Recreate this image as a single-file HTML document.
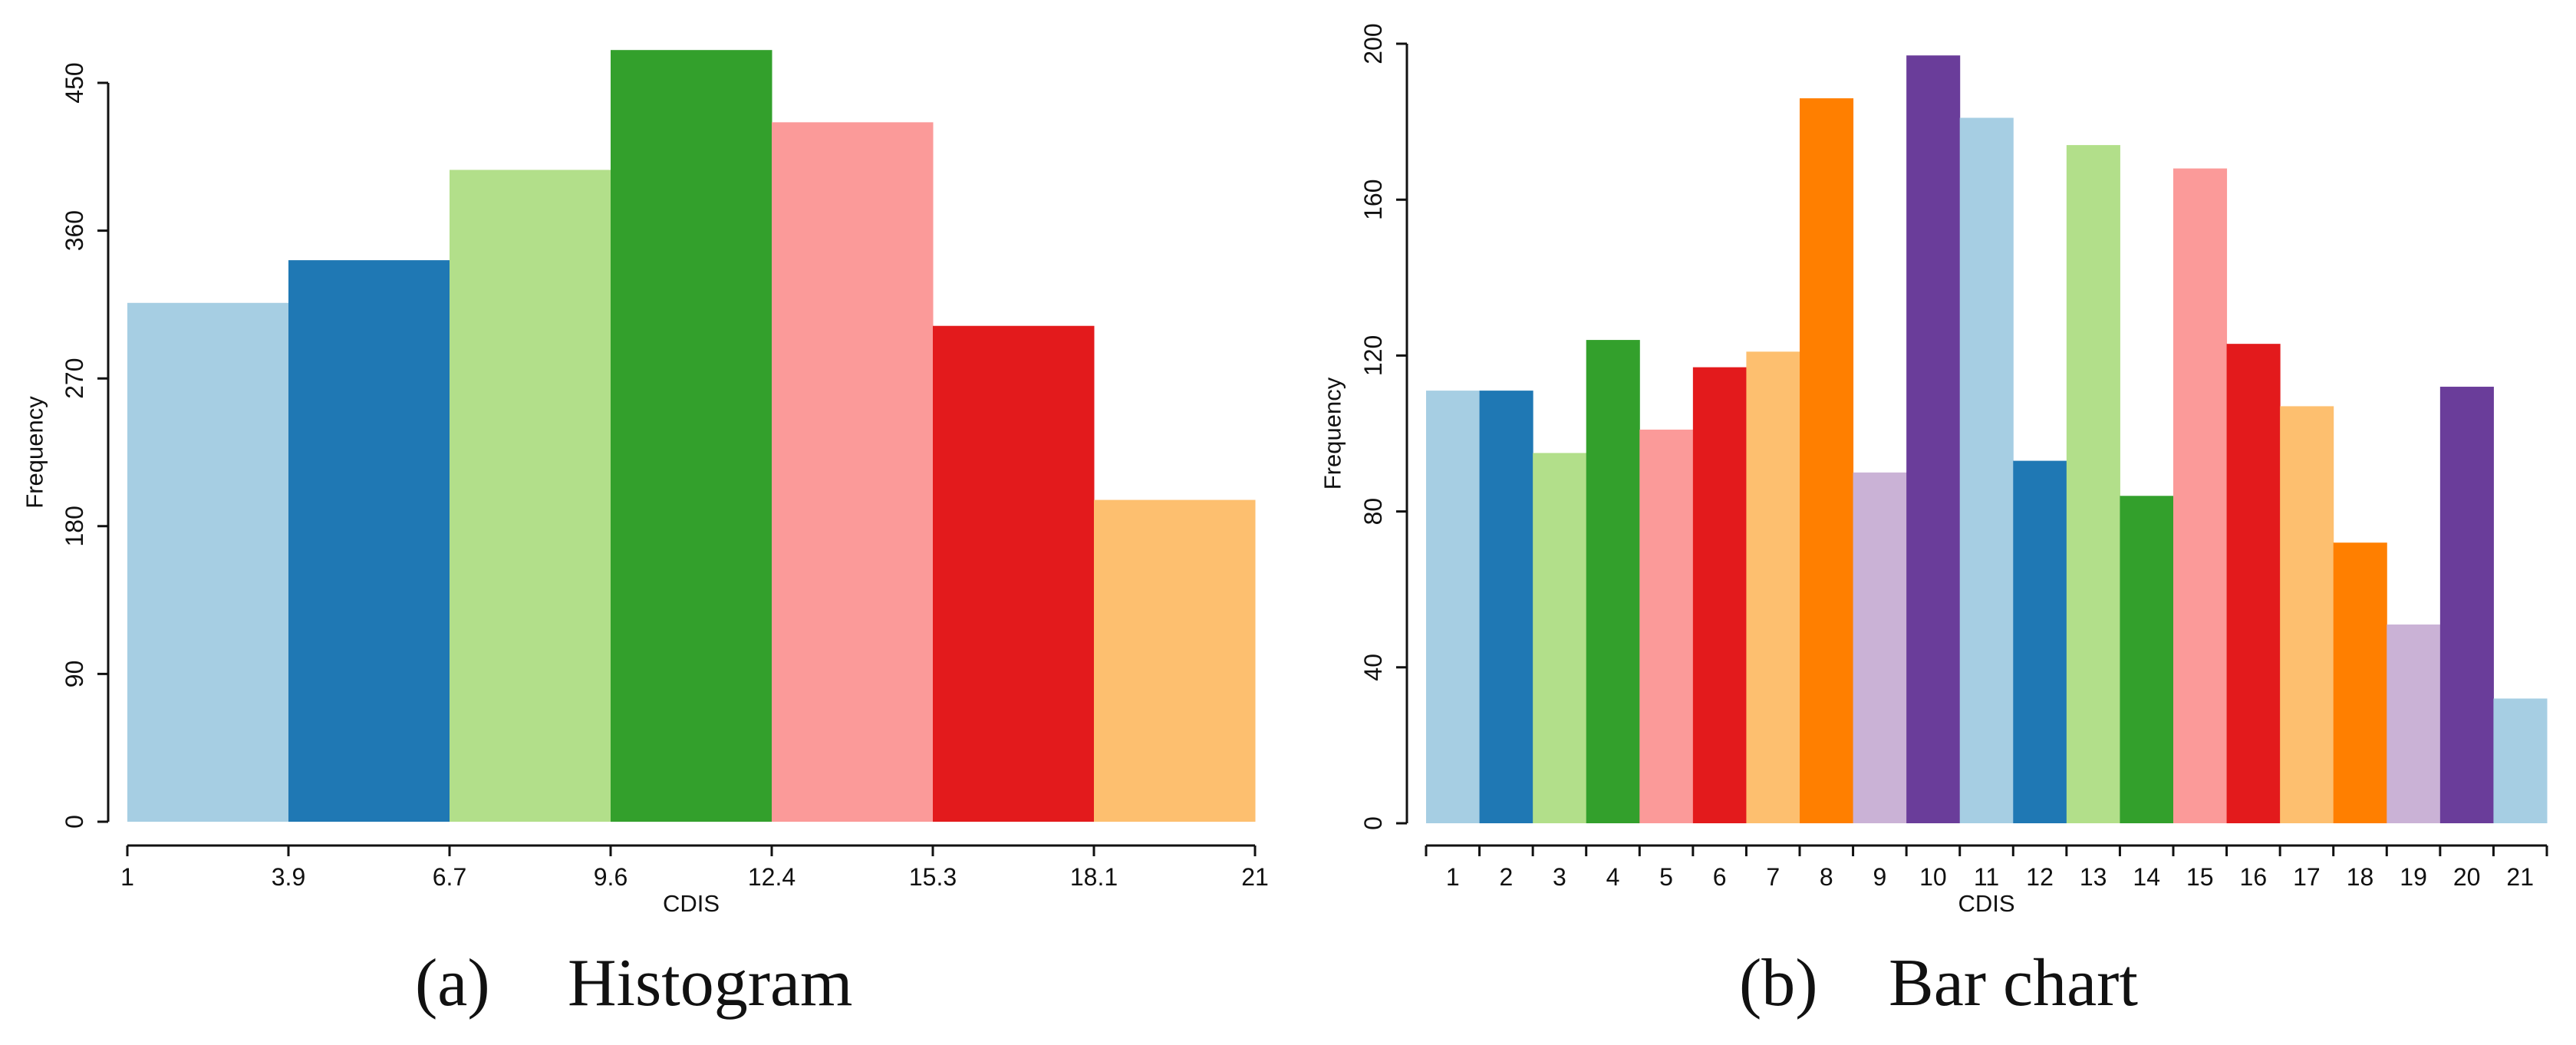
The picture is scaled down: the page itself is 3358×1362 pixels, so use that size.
<!DOCTYPE html>
<html><head><meta charset="utf-8"><style>
html,body{margin:0;padding:0;background:#fff;}
svg{display:block;}
text{font-family:"Liberation Sans",sans-serif;fill:#111;}
.cap{font-family:"Liberation Serif",serif;font-size:88px;}
</style></head><body>
<svg id="svg" width="3358" height="1362" viewBox="0 0 3358 1362">
<g id="histA"></g>
<g id="barB"></g>
<text class="cap" x="541" y="1310">(a)</text>
<text class="cap" x="740" y="1310">Histogram</text>
<text class="cap" x="2267" y="1310">(b)</text>
<text class="cap" x="2462" y="1310">Bar chart</text>
</svg>
<script>
const NS="http://www.w3.org/2000/svg";
const palette=["#a6cee3","#1f78b4","#b2df8a","#33a02c","#fb9a99","#e31a1c","#fdbf6f","#ff7f00","#cab2d6","#6a3d9a"];
// Histogram data
const histBreakLabels=["1","3.9","6.7","9.6","12.4","15.3","18.1","21"];
const histCounts=[316,342,397,470,426,302,196];
const histYTicks=[0,90,180,270,360,450];
// Bar chart data
const barCategories=["1","2","3","4","5","6","7","8","9","10","11","12","13","14","15","16","17","18","19","20","21"];
const barValues=[111,111,95,124,101,117,121,186,90,197,181,93,174,84,168,123,107,72,51,112,32];
const barYTicks=[0,40,80,120,160,200];

function mk(parent,tag,attrs,txt){const e=document.createElementNS(NS,tag);for(const k in attrs)e.setAttribute(k,attrs[k]);if(txt!==undefined)e.textContent=txt;parent.appendChild(e);return e;}

function panel(g,o){
  const y=v=>o.y0-(v/o.ymax)*(o.y0-o.ytop);
  const n=o.values.length;
  const bw=(o.x1-o.x0)/n;
  const x=i=>o.x0+i*bw;
  o.values.forEach((v,i)=>{
    const r=mk(g,"rect",{x:x(i),y:y(v),width:bw+0.5,height:o.y0-y(v),fill:palette[i%palette.length]});
    
    
  });
  const ya=mk(g,"path",{d:`M${o.ax} ${y(o.yticks[0])}V${y(o.yticks[o.yticks.length-1])}`+o.yticks.map(t=>`M${o.ax} ${y(t)}h-14`).join(""),stroke:"#111","stroke-width":3,fill:"none"});
  
  
  o.yticks.forEach(t=>{
    const tx=o.ax-44, ty=y(t);
    const tl=mk(g,"text",{x:tx,y:ty,"font-size":32,"text-anchor":"middle","dominant-baseline":"central",transform:`rotate(-90 ${tx} ${ty})`},String(t));
    
    
  });
  const nt=o.xlabels.length;
  const xt=i=>o.x0+i*bw;
  const tickCount=o.histo? nt : n+1;
  let d=`M${o.x0} ${o.xa}H${o.x1}`;
  for(let i=0;i<tickCount;i++) d+=`M${xt(i)} ${o.xa}v14`;
  const xa=mk(g,"path",{d,stroke:"#111","stroke-width":3,fill:"none"});
  
  
  o.xlabels.forEach((l,i)=>{
    const px=o.histo? xt(i) : x(i)+bw/2;
    const tl=mk(g,"text",{x:px,y:o.xa+52,"font-size":32,"text-anchor":"middle"},l);
    
    
  });
  const xt2=mk(g,"text",{x:(o.x0+o.x1)/2,y:o.xa+86,"font-size":31,"text-anchor":"middle"},"CDIS");
  
  
  const fy=(o.y0+o.ytop)/2;
  const ft=mk(g,"text",{x:o.fx,y:fy,"font-size":31,"text-anchor":"middle","dominant-baseline":"central",transform:`rotate(-90 ${o.fx} ${fy})`},"Frequency");
  
  
}
panel(document.getElementById("histA"),{values:histCounts,ymax:450,ytop:108,y0:1071,x0:166,x1:1636,ax:141,xa:1102,xlabels:histBreakLabels,yticks:histYTicks,histo:true,fx:45});
panel(document.getElementById("barB"),{values:barValues,ymax:200,ytop:57,y0:1073,x0:1859,x1:3320,ax:1834,xa:1102,xlabels:barCategories,yticks:barYTicks,histo:false,fx:1737});
</script>
</body></html>
